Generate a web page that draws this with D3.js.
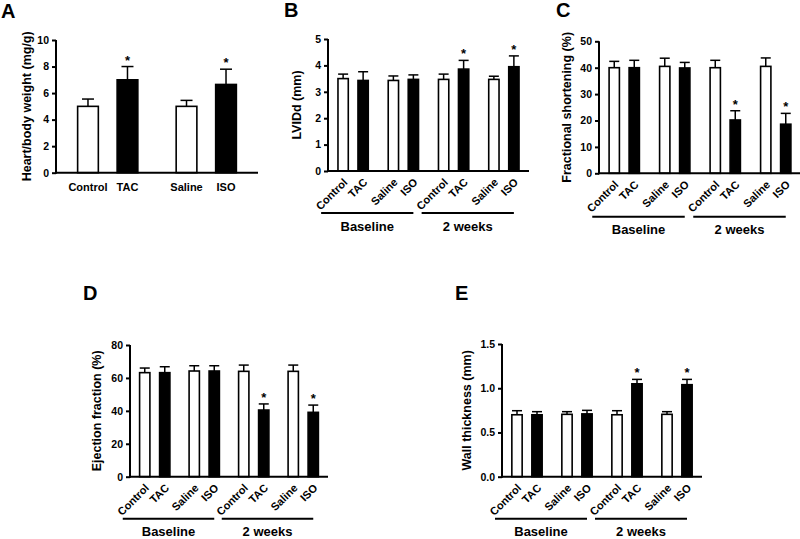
<!DOCTYPE html>
<html>
<head>
<meta charset="utf-8">
<script src="https://cdn.jsdelivr.net/npm/d3@7"></script>
<style>
  html, body { margin: 0; padding: 0; background: #fff; }
  svg { display: block; font-family: "Liberation Sans", Arial, sans-serif; font-weight: bold; }
</style>
</head>
<body>
<svg id="chart" width="800" height="539"></svg>
<script>
// ---------- DATA ----------
const categories = ["Control", "TAC", "Saline", "ISO"];
const groups = ["Baseline", "2 weeks"];

// Panel A: heart/body weight (mg/g)
const heartMean = [5.0, 7.0, 5.0, 6.65];
const heartSem  = [0.55, 1.0, 0.45, 1.15];
const heartSig  = [false, true, false, true];
const heartTicks = [0, 2, 4, 6, 8, 10];

// Panel B: LVIDd (mm) — Baseline (4) then 2 weeks (4)
const lviddMean = [3.50, 3.43, 3.43, 3.47, 3.47, 3.86, 3.47, 3.95];
const lviddSem  = [0.17, 0.33, 0.17, 0.17, 0.20, 0.33, 0.12, 0.41];
const lviddTicks = [0, 1, 2, 3, 4, 5];

// Panel C: Fractional shortening (%)
const fsMean = [40.0, 40.0, 40.5, 39.9, 40.0, 20.2, 40.5, 18.6];
const fsSem  = [2.4, 2.8, 3.1, 2.1, 2.8, 3.5, 3.2, 4.1];
const fsTicks = [0, 10, 20, 30, 40, 50];

// Panel D: Ejection fraction (%)
const efMean = [63.2, 63.2, 64.2, 64.2, 64.0, 40.5, 64.0, 39.1];
const efSem  = [2.8, 3.6, 3.2, 3.2, 3.8, 3.7, 3.8, 4.4];
const efTicks = [0, 20, 40, 60, 80];

// Panel E: Wall thickness (mm)
const wallMean = [0.70, 0.70, 0.705, 0.71, 0.70, 1.05, 0.705, 1.04];
const wallSem  = [0.046, 0.035, 0.03, 0.04, 0.046, 0.05, 0.03, 0.06];
const wallTicks = [0.0, 0.5, 1.0, 1.5];

const timeSig = [false, false, false, false, false, true, false, true];

// ---------- LAYOUT ----------
const svg = d3.select("#chart");
const FONT = "'Liberation Sans', Arial, sans-serif";

function panel(cfg) {
  const g = svg.append("g");
  const nGroups = cfg.grouped ? groups.length : 1;
  // pairs: Control/TAC and Saline/ISO inside each group
  const pairs = [];
  for (let gi = 0; gi < nGroups; gi++) { pairs.push(gi + "-0"); pairs.push(gi + "-1"); }
  const xPair = d3.scalePoint().domain(pairs).range([cfg.x0, cfg.x1]).padding(cfg.pad);
  const xIn = d3.scalePoint().domain([0, 1]).range([-cfg.half, cfg.half]);
  const y = d3.scaleLinear().domain([0, cfg.max]).range([cfg.y0, cfg.y1]);

  const rows = cfg.mean.map((m, i) => {
    const gi = Math.floor(i / 4), ci = i % 4;
    const pair = gi + "-" + Math.floor(ci / 2);
    return { i, gi, ci, cat: categories[ci], mean: m, sem: cfg.sem[i], sig: cfg.sig[i],
             cx: xPair(pair) + xIn(ci % 2) };
  });

  // bars
  g.selectAll("rect.bar").data(rows).join("rect")
    .attr("class", "bar")
    .attr("x", d => d.cx - cfg.bw / 2)
    .attr("width", cfg.bw)
    .attr("y", d => y(d.mean))
    .attr("height", d => y(0) - y(d.mean))
    .attr("fill", d => d.ci % 2 ? "#000" : "#fff")
    .attr("stroke", "#000").attr("stroke-width", 1.6);

  // error bars (upper only)
  g.selectAll("line.err").data(rows).join("line")
    .attr("x1", d => d.cx).attr("x2", d => d.cx)
    .attr("y1", d => y(d.mean)).attr("y2", d => y(d.mean + d.sem))
    .attr("stroke", "#000").attr("stroke-width", 1.5);
  g.selectAll("line.cap").data(rows).join("line")
    .attr("x1", d => d.cx - cfg.cap).attr("x2", d => d.cx + cfg.cap)
    .attr("y1", d => y(d.mean + d.sem)).attr("y2", d => y(d.mean + d.sem))
    .attr("stroke", "#000").attr("stroke-width", 1.5);

  // significance stars
  g.selectAll("text.star").data(rows.filter(d => d.sig)).join("text")
    .attr("x", d => d.cx).attr("y", d => y(d.mean + d.sem) - 2)
    .attr("text-anchor", "middle").attr("font-size", 13).attr("font-weight", "bold")
    .text("*");

  // y axis
  const yAxis = d3.axisLeft(y).tickValues(cfg.ticks).tickSize(4).tickPadding(3)
    .tickFormat(cfg.fmt ? d3.format(cfg.fmt) : d3.format("d"));
  const ya = g.append("g").attr("transform", `translate(${cfg.x0},0)`).call(yAxis);
  ya.select(".domain").attr("stroke-width", 2).attr("d", `M0,${cfg.y0 + 1}V${cfg.y1}`);
  ya.selectAll(".tick line").attr("stroke-width", 2);
  ya.selectAll(".tick text").attr("font-size", 10.5).attr("font-weight", "bold")
    .attr("font-family", FONT).attr("fill", "#000");

  // x axis line
  g.append("line").attr("x1", cfg.x0 - 1).attr("x2", cfg.x1)
    .attr("y1", cfg.y0).attr("y2", cfg.y0).attr("stroke", "#000").attr("stroke-width", 2);

  // category labels
  if (cfg.grouped) {
    g.selectAll("text.cat").data(rows).join("text")
      .attr("transform", d => `translate(${d.cx + 5},${cfg.y0 + 12}) rotate(-45)`)
      .attr("text-anchor", "end").attr("font-size", 11).text(d => d.cat);
    // group underline and labels
    groups.forEach((gname, gi) => {
      const gr = rows.filter(d => d.gi === gi);
      const a = gr[0].cx - 22, b = gr[gr.length - 1].cx;
      g.append("line").attr("x1", a).attr("x2", b)
        .attr("y1", cfg.y0 + cfg.lineOff).attr("y2", cfg.y0 + cfg.lineOff)
        .attr("stroke", "#000").attr("stroke-width", 2);
      g.append("text").attr("x", (a + b) / 2).attr("y", cfg.y0 + cfg.lineOff + 17.5)
        .attr("text-anchor", "middle").attr("font-size", 13).text(gname);
    });
  } else {
    g.selectAll("text.cat").data(rows).join("text")
      .attr("x", d => d.cx).attr("y", cfg.y0 + 18)
      .attr("text-anchor", "middle").attr("font-size", 11).text(d => d.cat);
  }

  // y label
  g.append("text")
    .attr("transform", `translate(${cfg.ylx},${(cfg.y0 + cfg.y1) / 2}) rotate(-90)`)
    .attr("text-anchor", "middle").attr("dominant-baseline", "central")
    .attr("font-size", 12.5).text(cfg.ylabel);

  // panel letter
  g.append("text").attr("x", cfg.lx).attr("y", cfg.ly)
    .attr("font-size", 20).text(cfg.letter);
}

panel({ letter: "A", lx: 1, ly: 18, mean: heartMean, sem: heartSem, sig: heartSig,
  ticks: heartTicks, max: 10, ylabel: "Heart/body weight (mg/g)", grouped: false,
  x0: 56, x1: 258, y0: 172.7, y1: 40, pad: 0.525, half: 19.75, bw: 20.7, cap: 6, ylx: 27 });

panel({ letter: "B", lx: 284, ly: 17, mean: lviddMean, sem: lviddSem, sig: timeSig,
  ticks: lviddTicks, max: 5, ylabel: "LVIDd (mm)", grouped: true, lineOff: 42,
  x0: 328, x1: 529, y0: 171, y1: 39, pad: 0.5, half: 10, bw: 10.3, cap: 5, ylx: 297 });

panel({ letter: "C", lx: 556, ly: 17, mean: fsMean, sem: fsSem, sig: timeSig,
  ticks: fsTicks, max: 50, ylabel: "Fractional shortening (%)", grouped: true, lineOff: 43.5,
  x0: 599, x1: 801, y0: 173.3, y1: 41.3, pad: 0.5, half: 10, bw: 10.3, cap: 5, ylx: 567 });

panel({ letter: "D", lx: 83, ly: 300, mean: efMean, sem: efSem, sig: timeSig,
  ticks: efTicks, max: 80, ylabel: "Ejection fraction (%)", grouped: true, lineOff: 42,
  x0: 130, x1: 328, y0: 476.7, y1: 345, pad: 0.5, half: 10, bw: 10.3, cap: 5, ylx: 97 });

panel({ letter: "E", lx: 455, ly: 300, mean: wallMean, sem: wallSem, sig: timeSig,
  ticks: wallTicks, max: 1.5, fmt: ".1f", ylabel: "Wall thickness (mm)", grouped: true, lineOff: 42,
  x0: 502, x1: 702, y0: 476.7, y1: 344, pad: 0.5, half: 10, bw: 10.3, cap: 5, ylx: 467 });
</script>
</body>
</html>
